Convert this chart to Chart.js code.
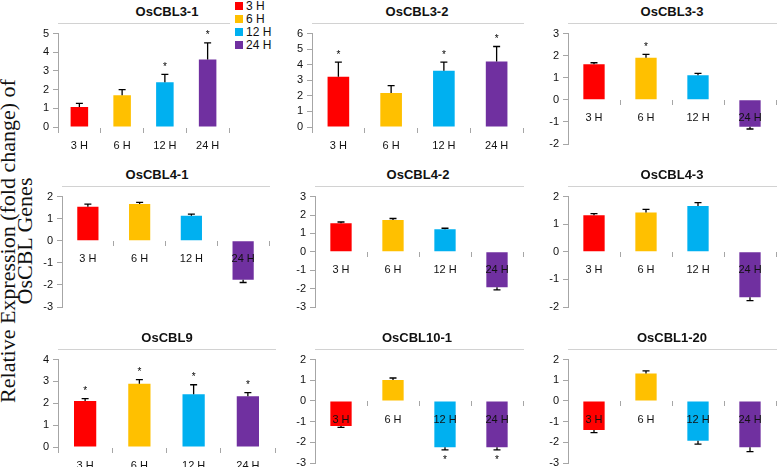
<!DOCTYPE html>
<html>
<head>
<meta charset="utf-8">
<script src="https://cdn.jsdelivr.net/npm/chart.js@4.4.1/dist/chart.umd.min.js"></script>
<style>
  body { margin: 0; background: #fff; width: 777px; height: 467px; position: relative; overflow: hidden;
         font-family: "Liberation Sans", Arial, sans-serif; color: #111; }
  canvas { position: absolute; }
  .ttl { position: absolute; font-weight: bold; font-size: 13px; transform: translate(-50%, -50%); white-space: nowrap; }
  .leg { position: absolute; left: 235px; top: 0; font-size: 12px; }
  .leg div { height: 13px; line-height: 13px; white-space: nowrap; }
  .leg span { display: inline-block; width: 8px; height: 8px; margin-right: 3px; }
  .ylab { position: absolute; left: 16px; top: 241px; width: 380px; transform: translate(-50%, -50%) rotate(-90deg);
          font-family: "Liberation Serif", "Times New Roman", serif; font-size: 22px; line-height: 17px; text-align: center; }
</style>
</head>
<body>
<div class="ylab">Relative Expression (fold change) of<br>OsCBL Genes</div>
<div class="leg" id="legend"></div>

<script>
// categories, colours
const categories = ['3 H', '6 H', '12 H', '24 H'];
const barColors = ['#ff0000', '#ffc000', '#00b0f0', '#7030a0'];
const genes = ['OsCBL3-1', 'OsCBL3-2', 'OsCBL3-3', 'OsCBL4-1', 'OsCBL4-2', 'OsCBL4-3', 'OsCBL9', 'OsCBL10-1', 'OsCBL1-20'];

// values (fold change), error (SD) and significance (*) per gene
const cbl31 = [1.07, 1.70, 2.39, 3.62];
const cbl31Err = [0.20, 0.30, 0.43, 0.88];
const cbl31Sig = [0, 0, 1, 1];

const cbl32 = [3.23, 2.19, 3.62, 4.21];
const cbl32Err = [0.94, 0.47, 0.55, 0.96];
const cbl32Sig = [1, 0, 1, 1];

const cbl33 = [1.61, 1.91, 1.11, -1.22];
const cbl33Err = [0.07, 0.15, 0.09, 0.10];
const cbl33Sig = [0, 1, 0, 0];

const cbl41 = [1.54, 1.67, 1.13, -1.77];
const cbl41Err = [0.12, 0.07, 0.08, 0.12];
const cbl41Sig = [0, 0, 0, 0];

const cbl42 = [1.55, 1.73, 1.23, -1.93];
const cbl42Err = [0.07, 0.08, 0.05, 0.14];
const cbl42Sig = [0, 0, 0, 0];

const cbl43 = [1.32, 1.42, 1.66, -1.65];
const cbl43Err = [0.06, 0.12, 0.12, 0.12];
const cbl43Sig = [0, 0, 0, 0];

const cbl9 = [2.11, 2.89, 2.41, 2.32];
const cbl9Err = [0.10, 0.19, 0.44, 0.17];
const cbl9Sig = [1, 1, 1, 1];

const cbl101 = [-1.21, 1.01, -2.24, -2.24];
const cbl101Err = [0.07, 0.10, 0.13, 0.13];
const cbl101Sig = [0, 0, 1, 1];

const cbl120 = [-1.40, 1.33, -1.93, -2.24];
const cbl120Err = [0.13, 0.12, 0.16, 0.21];
const cbl120Sig = [0, 0, 0, 0];

const yMin = [0, 0, -2, -3, -3, -2, 0, -3, -3];
const yMax = [5, 6, 3, 2, 3, 2, 4, 2, 2];

const values = [cbl31, cbl32, cbl33, cbl41, cbl42, cbl43, cbl9, cbl101, cbl120];
const errors = [cbl31Err, cbl32Err, cbl33Err, cbl41Err, cbl42Err, cbl43Err, cbl9Err, cbl101Err, cbl120Err];
const signif = [cbl31Sig, cbl32Sig, cbl33Sig, cbl41Sig, cbl42Sig, cbl43Sig, cbl9Sig, cbl101Sig, cbl120Sig];

// plot area of each panel on the page: left, right, top, bottom
const areas = [
    [58, 229, 33, 127], [312, 523, 33, 127], [568, 776, 33, 144],
    [62, 269, 196, 307], [315, 523, 196, 307], [568, 776, 196, 307],
    [58, 275, 359, 447], [315, 523, 359, 463], [568, 776, 359, 463]
];
// title centres
const titlePos = [
    [167, 11], [417, 11], [672, 11],
    [157, 174], [418, 174], [672, 174],
    [167, 337], [417, 337], [672, 337]
];

const axisGray = '#a6a6a6';

// error bars (away from zero) + asterisks
const errorBars = {
    id: 'errorBars',
    afterDatasetsDraw(chart) {
        const ds = chart.data.datasets[0];
        const meta = chart.getDatasetMeta(0);
        const yScale = chart.scales.y;
        const ctx = chart.ctx;
        ctx.save();
        ctx.strokeStyle = '#000';
        ctx.fillStyle = '#000';
        ctx.lineWidth = 1.3;
        ctx.font = '10px "Liberation Sans", Arial';
        ctx.textAlign = 'center';
        ctx.textBaseline = 'alphabetic';
        meta.data.forEach((bar, i) => {
            const v = ds.data[i];
            const e = ds.errors[i];
            const end = v >= 0 ? v + e : v - e;
            const y0 = yScale.getPixelForValue(v);
            const y1 = yScale.getPixelForValue(end);
            ctx.beginPath();
            ctx.moveTo(bar.x, y0);
            ctx.lineTo(bar.x, y1);
            ctx.moveTo(bar.x - 3.5, y1);
            ctx.lineTo(bar.x + 3.5, y1);
            ctx.stroke();
            if (ds.stars[i]) {
                const cy = v >= 0 ? y1 - 10.5 : y1 + 7;
                ctx.fillText('*', bar.x, cy + 6);
            }
        });
        ctx.restore();
    }
};

// legend
const legendEl = document.getElementById('legend');
categories.forEach((c, i) => {
    const row = document.createElement('div');
    row.innerHTML = '<span style="background:' + barColors[i] + '"></span>' + c;
    legendEl.appendChild(row);
});

genes.forEach((gene, p) => {
    const [L, R, T, B] = areas[p];
    const padL = 40, padT = 10, padR = 2, padB = 30;
    const canvas = document.createElement('canvas');
    canvas.width = R - L + padL + padR;
    canvas.height = B - T + padT + padB;
    canvas.style.left = (L - padL) + 'px';
    canvas.style.top = (T - padT) + 'px';
    document.body.appendChild(canvas);

    const t = document.createElement('div');
    t.className = 'ttl';
    t.textContent = gene;
    t.style.left = titlePos[p][0] + 'px';
    t.style.top = titlePos[p][1] + 'px';
    document.body.appendChild(t);

    new Chart(canvas.getContext('2d'), {
        type: 'bar',
        data: {
            labels: categories,
            datasets: [{
                data: values[p],
                errors: errors[p],
                stars: signif[p],
                backgroundColor: barColors,
                borderWidth: 0,
                barPercentage: 0.41,
                categoryPercentage: 1
            }]
        },
        options: {
            responsive: false,
            animation: false,
            layout: { padding: { left: 0, top: padT, right: padR, bottom: padB } },
            plugins: { legend: { display: false }, tooltip: { enabled: false } },
            scales: {
                x: {
                    position: { y: 0 },
                    grid: { drawOnChartArea: false, tickLength: 5, color: axisGray, offset: true, z: 1 },
                    border: { color: axisGray },
                    ticks: { font: { size: 11, family: '"Liberation Sans", Arial' }, color: '#111', padding: 7,
                             maxRotation: 0, autoSkip: false, z: 1 },
                    afterFit: s => { s.height = 0; }
                },
                y: {
                    min: yMin[p],
                    max: yMax[p],
                    grid: { drawOnChartArea: false, tickLength: 5, color: axisGray },
                    border: { color: axisGray },
                    ticks: { stepSize: 1, autoSkip: false, font: { size: 11, family: '"Liberation Sans", Arial' },
                             color: '#111', padding: 4 },
                    afterFit: s => { s.width = padL; }
                }
            }
        },
        plugins: [errorBars]
    });
});
</script>
</body>
</html>
